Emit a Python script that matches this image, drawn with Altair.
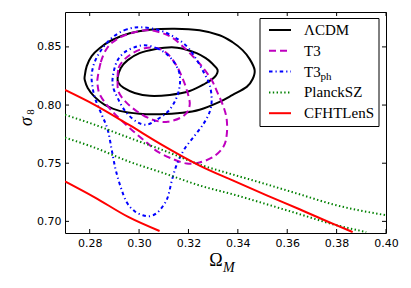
import altair as alt
import pandas as pd

# ---------------- data ----------------
X_TICKS = [0.28, 0.30, 0.32, 0.34, 0.36, 0.38, 0.40]
Y_TICKS = [0.70, 0.75, 0.80, 0.85]

LCDM_OUTER_OM = [0.2780, 0.2788, 0.2808, 0.2840, 0.2889, 0.2962, 0.3043, 0.3144, 0.3245, 0.3326, 0.3379, 0.3419, 0.3448, 0.3468,
                 0.3460, 0.3436, 0.3379, 0.3326, 0.3245, 0.3176, 0.3083, 0.3002, 0.2921, 0.2861, 0.2820, 0.2792, 0.2780]
LCDM_OUTER_S8 = [0.8250, 0.8335, 0.8421, 0.8489, 0.8557, 0.8617, 0.8647, 0.8656, 0.8643, 0.8600, 0.8540, 0.8472, 0.8395, 0.8301,
                 0.8224, 0.8156, 0.8087, 0.8027, 0.7959, 0.7933, 0.7921, 0.7925, 0.7950, 0.8002, 0.8070, 0.8147, 0.8215]
LCDM_INNER_OM = [0.2913, 0.2926, 0.2954, 0.3002, 0.3063, 0.3132, 0.3185, 0.3233, 0.3270, 0.3294, 0.3318, 0.3306, 0.3265, 0.3205,
                 0.3124, 0.3043, 0.2982, 0.2938, 0.2917]
LCDM_INNER_S8 = [0.8232, 0.8318, 0.8386, 0.8446, 0.8480, 0.8497, 0.8480, 0.8446, 0.8403, 0.8361, 0.8301, 0.8241, 0.8181, 0.8121,
                 0.8087, 0.8079, 0.8104, 0.8147, 0.8190]

T3_OUTER_OM = [0.2832, 0.2845, 0.2865, 0.2893, 0.2942, 0.3023, 0.3083, 0.3132, 0.3176, 0.3217, 0.3257, 0.3294, 0.3318, 0.3342,
               0.3355, 0.3355, 0.3342, 0.3302, 0.3245, 0.3193, 0.3132, 0.3075, 0.3031, 0.2974, 0.2913, 0.2869, 0.2840, 0.2832]
T3_OUTER_S8 = [0.8232, 0.8369, 0.8472, 0.8540, 0.8600, 0.8643, 0.8626, 0.8583, 0.8506, 0.8421, 0.8326, 0.8215, 0.8104, 0.7985,
               0.7874, 0.7745, 0.7643, 0.7557, 0.7506, 0.7497, 0.7540, 0.7600, 0.7677, 0.7780, 0.7899, 0.8002, 0.8096, 0.8173]
T3_INNER_OM = [0.2913, 0.2917, 0.2938, 0.2974, 0.3023, 0.3075, 0.3116, 0.3148, 0.3172, 0.3193, 0.3205, 0.3181, 0.3116, 0.3055,
               0.2994, 0.2946, 0.2917]
T3_INNER_S8 = [0.8215, 0.8318, 0.8386, 0.8446, 0.8489, 0.8489, 0.8438, 0.8352, 0.8250, 0.8130, 0.8002, 0.7908, 0.7856, 0.7874,
               0.7942, 0.8027, 0.8113]

PH_OUTER_OM = [0.3011, 0.2950, 0.2893, 0.2849, 0.2820, 0.2808, 0.2812, 0.2824, 0.2849, 0.2873, 0.2889, 0.2905, 0.2926, 0.2950,
               0.2982, 0.3015, 0.3043, 0.3071, 0.3096, 0.3116, 0.3136, 0.3156, 0.3185, 0.3225, 0.3261, 0.3286, 0.3294, 0.3286,
               0.3261, 0.3229, 0.3193, 0.3144, 0.3083]
PH_OUTER_S8 = [0.8668, 0.8651, 0.8583, 0.8480, 0.8369, 0.8258, 0.8147, 0.8044, 0.7916, 0.7788, 0.7617, 0.7446, 0.7292, 0.7164,
               0.7087, 0.7053, 0.7044, 0.7070, 0.7130, 0.7207, 0.7378, 0.7506, 0.7626, 0.7737, 0.7839, 0.7942, 0.8044, 0.8173,
               0.8284, 0.8403, 0.8506, 0.8583, 0.8643]
PH_INNER_OM = [0.3023, 0.3071, 0.3112, 0.3144, 0.3164, 0.3164, 0.3148, 0.3116, 0.3071, 0.3031, 0.2990, 0.2946, 0.2913, 0.2893,
               0.2897, 0.2913, 0.2942, 0.2982]
PH_INNER_S8 = [0.8515, 0.8489, 0.8438, 0.8361, 0.8267, 0.8156, 0.8044, 0.7942, 0.7874, 0.7831, 0.7856, 0.7942, 0.8061, 0.8173,
               0.8284, 0.8386, 0.8455, 0.8497]

PLANCK_UP_OM = [0.2700, 0.2820, 0.2958, 0.3091, 0.3257, 0.3379, 0.3517, 0.3650, 0.3784, 0.4000]
PLANCK_UP_S8 = [0.7916, 0.7831, 0.7720, 0.7617, 0.7480, 0.7403, 0.7318, 0.7233, 0.7147, 0.7053]
PLANCK_LO_OM = [0.2700, 0.2820, 0.2958, 0.3091, 0.3257, 0.3379, 0.3517, 0.3650, 0.3784, 0.3920]
PLANCK_LO_S8 = [0.7720, 0.7634, 0.7515, 0.7421, 0.7301, 0.7233, 0.7147, 0.7062, 0.6976, 0.6908]

CFHT_UP_OM = [0.2700, 0.2820, 0.2958, 0.3091, 0.3245, 0.3379, 0.3517, 0.3650, 0.3784, 0.3865]
CFHT_UP_S8 = [0.8130, 0.8002, 0.7831, 0.7660, 0.7480, 0.7352, 0.7224, 0.7104, 0.6980, 0.6908]
CFHT_LO_OM = [0.2700, 0.2820, 0.2958, 0.3083]
CFHT_LO_S8 = [0.7344, 0.7207, 0.7036, 0.6917]

SERIES = ["ΛCDM", "T3", "T3", "PlanckSZ", "CFHTLenS"]
SUBSCRIPTS = ["", "", "ph", "", ""]
COLORS = ["#000000", "#bf00bf", "#0000ff", "#008000", "#ff0000"]
DASHES = [[1, 0], [7, 4], [3.5, 3, 1.2, 3], [1.4, 2.4], [1, 0]]

# ---------------- layout ----------------
W, H = 321, 221
xs = alt.Scale(domain=[0.27, 0.40], nice=False, zero=False)
ys = alt.Scale(domain=[0.69, 0.88], nice=False, zero=False)
x_axis = alt.Axis(values=X_TICKS, format=".2f", ticks=False, domain=False, grid=False, labelFont="DejaVu Sans",
                  labelFontSize=11, labelColor="black", labelPadding=4, labelFlush=False, labelOverlap=False, title=None)
y_axis = alt.Axis(values=Y_TICKS, format=".2f", ticks=False, domain=False, grid=False, labelFont="DejaVu Sans",
                  labelFontSize=11, labelColor="black", labelPadding=4, labelFlush=False, labelOverlap=False, title=None)


def X(f="om"):
    return alt.X(f"{f}:Q", scale=xs, axis=x_axis)


def Y(f="s8"):
    return alt.Y(f"{f}:Q", scale=ys, axis=y_axis)


one = pd.DataFrame({"a": [0]})

groups = [
    (0, [(LCDM_OUTER_OM, LCDM_OUTER_S8), (LCDM_INNER_OM, LCDM_INNER_S8)], True),
    (1, [(T3_OUTER_OM, T3_OUTER_S8), (T3_INNER_OM, T3_INNER_S8)], True),
    (2, [(PH_OUTER_OM, PH_OUTER_S8), (PH_INNER_OM, PH_INNER_S8)], True),
    (3, [(PLANCK_UP_OM, PLANCK_UP_S8), (PLANCK_LO_OM, PLANCK_LO_S8)], False),
    (4, [(CFHT_UP_OM, CFHT_UP_S8), (CFHT_LO_OM, CFHT_LO_S8)], False),
]

layers = []
for k, rings, closed in groups:
    rows = []
    for r, (oms, s8s) in enumerate(rings):
        for i, (a, b) in enumerate(zip(oms, s8s)):
            rows.append({"om": a, "s8": b, "ring": r, "idx": i})
    df = pd.DataFrame(rows)
    mk = dict(color=COLORS[k], strokeWidth=2, clip=True,
              interpolate="cardinal-closed" if closed else "monotone")
    if DASHES[k] != [1, 0]:
        mk["strokeDash"] = DASHES[k]
    layers.append(alt.Chart(df).mark_line(**mk).encode(
        x=X(), y=Y(), detail="ring:N", order="idx:Q"))

# inward ticks on all four sides
xt = pd.DataFrame({"om": X_TICKS})
yt = pd.DataFrame({"s8": Y_TICKS})
layers.append(alt.Chart(xt).mark_rule(color="black", strokeWidth=1).encode(x=X(), y=alt.value(H), y2=alt.value(H - 4)))
layers.append(alt.Chart(xt).mark_rule(color="black", strokeWidth=1).encode(x=X(), y=alt.value(0), y2=alt.value(4)))
layers.append(alt.Chart(yt).mark_rule(color="black", strokeWidth=1).encode(y=Y(), x=alt.value(0), x2=alt.value(4)))
layers.append(alt.Chart(yt).mark_rule(color="black", strokeWidth=1).encode(y=Y(), x=alt.value(W - 4), x2=alt.value(W)))

# legend
LX0, LX1, LY0, LY1 = 195, 314, 6.5, 114.5
layers.append(alt.Chart(one).mark_rect(fill="white", stroke="black", strokeWidth=1).encode(
    x=alt.value(LX0), x2=alt.value(LX1), y=alt.value(LY0), y2=alt.value(LY1)))
for k, name in enumerate(SERIES):
    yc = 18 + 20.8 * k
    rk = dict(color=COLORS[k], strokeWidth=2)
    if DASHES[k] != [1, 0]:
        rk["strokeDash"] = DASHES[k]
    layers.append(alt.Chart(one).mark_rule(**rk).encode(
        x=alt.value(204), x2=alt.value(226), y=alt.value(yc)))
    layers.append(alt.Chart(one).mark_text(align="left", baseline="alphabetic", font="Liberation Serif",
                                           fontSize=15, color="black").encode(
        x=alt.value(239), y=alt.value(yc + 5), text=alt.value(name)))
    if SUBSCRIPTS[k]:
        layers.append(alt.Chart(one).mark_text(align="left", baseline="alphabetic", font="Liberation Serif",
                                               fontSize=11, color="black").encode(
            x=alt.value(255.5), y=alt.value(yc + 8), text=alt.value(SUBSCRIPTS[k])))

# axis titles
layers.append(alt.Chart(one).mark_text(align="center", baseline="alphabetic", font="Liberation Serif",
                                       fontSize=18, color="black").encode(
    x=alt.value(151), y=alt.value(254), text=alt.value("Ω")))
layers.append(alt.Chart(one).mark_text(align="left", baseline="alphabetic", font="Liberation Serif",
                                       fontSize=14, fontStyle="italic", color="black").encode(
    x=alt.value(158), y=alt.value(260), text=alt.value("M")))
layers.append(alt.Chart(one).mark_text(align="center", baseline="alphabetic", font="Liberation Serif",
                                       fontSize=18, fontStyle="italic", angle=270, color="black").encode(
    x=alt.value(-33), y=alt.value(109.5), text=alt.value("σ")))
layers.append(alt.Chart(one).mark_text(align="center", baseline="alphabetic", font="Liberation Serif",
                                       fontSize=11, angle=270, color="black").encode(
    x=alt.value(-31), y=alt.value(100), text=alt.value("8")))

chart = alt.layer(*layers).properties(
    width=W, height=H,
    padding={"left": 57, "top": 4, "right": 17, "bottom": 45},
    autosize=alt.AutoSizeParams(type="none"),
).configure_view(stroke="black", strokeWidth=1)

chart.save("out.html", embed_options={"renderer": "svg", "actions": False})
